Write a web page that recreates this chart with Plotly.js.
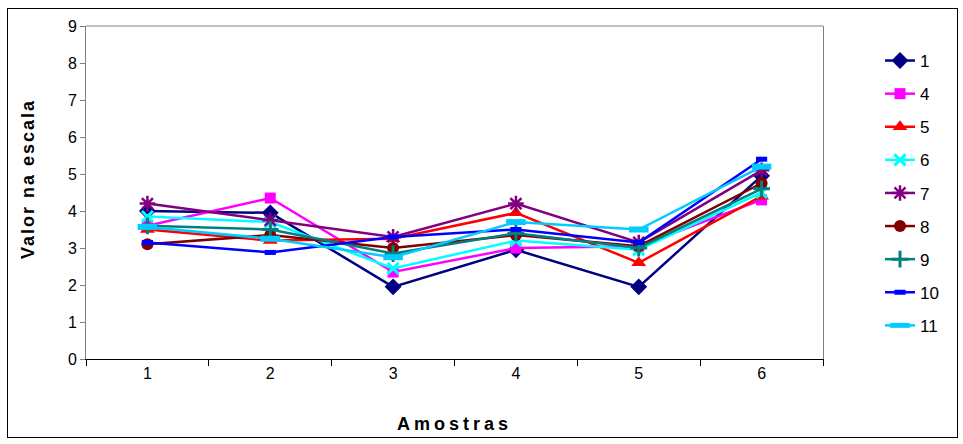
<!DOCTYPE html>
<html>
<head>
<meta charset="utf-8">
<script src="https://cdn.plot.ly/plotly-3.0.1.min.js"></script>
<style>
html,body{margin:0;padding:0;background:#fff;}
#wrap{position:relative;width:963px;height:444px;}
#chart{width:963px;height:444px;}
#frame{position:absolute;left:7px;top:8px;width:949px;height:428px;border:1px solid #000;pointer-events:none;}
.annotation-text{letter-spacing:2px;}
.xtitle{letter-spacing:4px;}
</style>
</head>
<body>
<div id="wrap"><div id="chart"></div><div id="frame"></div></div>
<script>
const samples = ['1','2','3','4','5','6'];
const seriesNames = ['1','4','5','6','7','8','9','10','11'];
const s1  = [4.0, 3.95, 1.95, 2.95, 1.95, 4.95];
const s4  = [3.6, 4.35, 2.35, 3.0, 3.05, 4.3];
const s5  = [3.5, 3.2, 3.25, 3.95, 2.6, 4.4];
const s6  = [3.85, 3.7, 2.45, 3.2, 2.95, 4.5];
const s7  = [4.2, 3.75, 3.3, 4.2, 3.15, 5.1];
const s8  = [3.1, 3.35, 3.0, 3.35, 3.05, 4.75];
const s9  = [3.6, 3.5, 2.85, 3.4, 3.0, 4.6];
const s10 = [3.15, 2.88, 3.3, 3.5, 3.15, 5.4];
const s11 = [3.57, 3.25, 2.75, 3.7, 3.5, 5.2];
const yTicks = [0,1,2,3,4,5,6,7,8,9];

const values = [s1,s4,s5,s6,s7,s8,s9,s10,s11];
const colors = ['#000080','#FF00FF','#FF0000','#00FFFF','#800080','#800000','#008080','#0000FF','#00CCFF'];
const markers = [
  {symbol:'diamond', size:13},
  {symbol:'square', size:11},
  {symbol:'triangle-up', size:13},
  {symbol:'x-thin', size:11, lw:3},
  {symbol:'asterisk', size:13, lw:2.5},
  {symbol:'circle', size:12},
  {symbol:'cross-thin', size:12, lw:3},
  {symbol:'line-ew', size:8, lw:5},
  {symbol:'line-ew', size:14, lw:6}
];

const traces = seriesNames.map((n,i)=>{
  const m = markers[i];
  const marker = {symbol:m.symbol, size:m.size, color:colors[i]};
  if (m.lw) marker.line = {color:colors[i], width:m.lw};
  return {
    x: samples, y: values[i], name: n, type:'scatter', mode:'lines+markers',
    line:{color:colors[i], width:2.5}, marker: marker,
    legendgroup:'g'+i
  };
});

const layout = {
  width:963, height:444,
  margin:{l:86, r:140, t:26, b:85},
  paper_bgcolor:'#fff', plot_bgcolor:'#fff',
  font:{family:'Liberation Sans, Arial, sans-serif', size:16, color:'#000'},
  showlegend:true,
  legend:{x:(880-86)/737, xanchor:'left', y:(359-43)/333, yanchor:'top',
          font:{size:17}, traceorder:'grouped', tracegroupgap:8, bgcolor:'rgba(0,0,0,0)'},
  xaxis:{type:'category', range:[-0.5,5.5], tickson:'boundaries', ticks:'outside', ticklen:6, tickcolor:'#000',
         showline:true, linecolor:'#000', linewidth:1, showgrid:false, zeroline:false,
         tickfont:{size:16},
         title:{text:'<b>Amostras</b>', font:{size:18}, standoff:36}},
  yaxis:{range:[0,9], tickvals:yTicks, ticks:'outside', ticklen:5, tickcolor:'#808080',
         showline:true, linecolor:'#808080', linewidth:1, mirror:true, showgrid:false, zeroline:false,
         tickfont:{size:16}},
  annotations:[{text:'<b>Valor na escala</b>', xref:'paper', yref:'paper',
                x:(28-86)/737, y:(359-179)/333, xanchor:'center', yanchor:'middle',
                textangle:-90, showarrow:false, font:{size:18}}],
  shapes:[{type:'line', xref:'paper', yref:'paper', x0:0, x1:1, y0:1, y1:1, line:{color:'#808080', width:1}}]
};

Plotly.newPlot('chart', traces, layout, {displayModeBar:false, staticPlot:true});
</script>
</body>
</html>
